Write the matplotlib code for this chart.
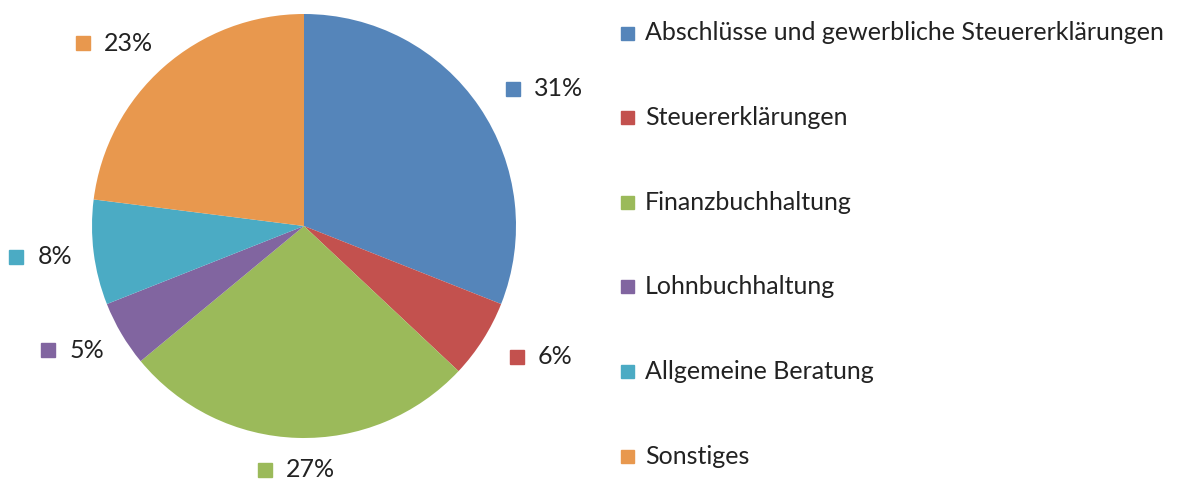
import matplotlib
matplotlib.use("Agg")
import matplotlib.pyplot as plt
import numpy as np

categories = ["Abschlüsse und gewerbliche Steuererklärungen", "Steuererklärungen",
              "Finanzbuchhaltung", "Lohnbuchhaltung", "Allgemeine Beratung", "Sonstiges"]
values = [31, 6, 27, 5, 8, 23]
pct_labels = ["31%", "6%", "27%", "5%", "8%", "23%"]
colors = ["#5585BA", "#C3514E", "#9BBA5A", "#8165A0", "#4BABC4", "#E8984E"]

plt.rcParams['font.family'] = ['Lato', 'DejaVu Sans']
W, H = 1189, 479
fig = plt.figure(figsize=(W / 100, H / 100), dpi=100)
renderer = fig.canvas.get_renderer()

cx, cy, r = 304, 226, 212
ax = fig.add_axes([(cx - r) / W, (H - cy - r) / H, 2 * r / W, 2 * r / H])
wedges, _ = ax.pie(values, colors=colors, startangle=90, counterclock=False,
                   radius=1.0, wedgeprops=dict(linewidth=0))
ax.set_xlim(-1, 1)
ax.set_ylim(-1, 1)
ax.set_aspect('equal')
ax.axis('off')

txtcol = "#222222"
fs = 18
sq = 14
total = sum(values)
start = 90.0
for v, lab, col in zip(values, pct_labels, colors):
    ang = start - v / total * 360 / 2
    start -= v / total * 360
    a = np.deg2rad(ang)
    px = cx + 1.15 * r * np.cos(a)
    py = cy - 1.15 * r * np.sin(a)
    t = fig.text(0, 0, lab, fontsize=fs, color=txtcol, ha='left', va='center')
    tw = t.get_window_extent(renderer).width
    w = 28 + tw
    c = np.cos(a)
    if c > 0.15:
        x0 = px
    elif c < -0.15:
        x0 = px - w + 10
    else:
        x0 = px - w / 2
    fig.patches.append(plt.Rectangle((x0 / W, (H - py - sq / 2) / H), sq / W, sq / H,
                                     transform=fig.transFigure, color=col, figure=fig))
    t.set_position(((x0 + 28) / W, (H - py) / H))

# legend
lx, ly0, dy = 621, 33, 84.6
for i, (cat, col) in enumerate(zip(categories, colors)):
    y = ly0 + i * dy
    fig.patches.append(plt.Rectangle((lx / W, (H - y - 6.5) / H), 13 / W, 13 / H,
                                     transform=fig.transFigure, color=col, figure=fig))
    fig.text((lx + 24) / W, (H - y) / H, cat, fontsize=fs, color=txtcol,
             ha='left', va='center')

fig.savefig("out.png", dpi=100)
